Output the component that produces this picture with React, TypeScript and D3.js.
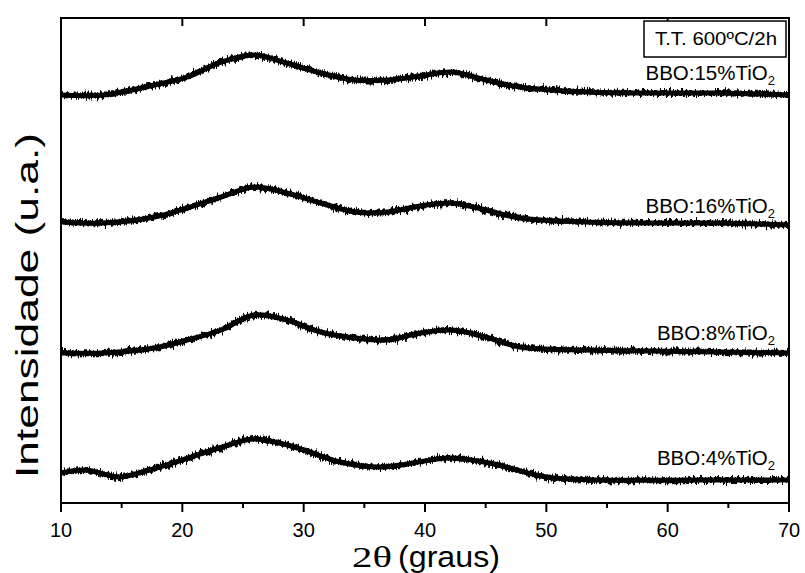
import React from "react";
import * as d3 from "d3";

// 2θ positions (degrees) and intensities (a.u., stacked as plotted)
const theta15 = [10, 13.5, 17.7, 20.4, 23.2, 25.9, 28.6, 31.4, 34.2, 36.9, 39.6, 42.2, 45, 47.8, 53.3, 58.7, 64.2, 70];
const int15 = [408, 408, 418, 426, 441, 448, 440, 430, 423, 423, 427, 431, 423, 416, 411, 410, 410, 408];

const theta16 = [10, 13.5, 17.7, 20.4, 23.2, 25.9, 28.6, 31.4, 34.2, 36.9, 39.6, 42.2, 45, 47.8, 53.3, 58.7, 64.2, 70];
const int16 = [281, 280, 286, 295, 306, 316, 310, 300, 291, 291, 297, 300, 293, 285, 281, 280, 280, 278];

const theta8 = [10, 13.5, 17.7, 20.4, 23.2, 25.9, 28.6, 31.4, 34.2, 36.9, 39.6, 42.2, 45, 47.8, 53.3, 58.7, 64.2, 70];
const int8 = [150, 150, 155, 163, 173, 188, 183, 171, 165, 163, 170, 173, 166, 156, 153, 152, 151, 150];

const theta4 = [10, 12, 14.8, 17, 20, 23, 25.8, 28, 30, 33, 36, 38, 42, 45.3, 50, 54.4, 62.6, 70];
const int4 = [30, 33, 26, 32, 43, 55, 64, 60, 53, 41, 36, 38, 45, 40, 26, 23, 23, 23];

const seriesNames = ["15", "16", "8", "4"];
const labelLevels = [80, 213, 340, 465];
const xTicks = [10, 20, 30, 40, 50, 60, 70];
const xMinor = [15, 25, 35, 45, 55, 65];
const legendText = "T.T. 600ºC/2h";

const FONT = "'Liberation Sans', Arial, Helvetica, sans-serif";

export default function App() {
  const W = 805, H = 573;
  const left = 61, right = 789, top = 18, bottom = 503;
  const x = d3.scaleLinear().domain([10, 70]).range([left, right]);
  const y = d3.scaleLinear().domain([0, 485]).range([bottom, top]);

  const series = [
    { t: theta15, v: int15 },
    { t: theta16, v: int16 },
    { t: theta8, v: int8 },
    { t: theta4, v: int4 },
  ];

  const paths = series.map((s) => {
    const pts: [number, number][] = s.t.map((t, i) => [x(t), y(s.v[i])]);
    return d3.line().curve(d3.curveCatmullRom.alpha(0.5))(pts) || "";
  });

  return (
    <svg width={W} height={H} style={{ display: "block", position: "absolute", left: 0, top: 0, background: "#fff" }}>
      <defs>
        <filter id="rough" filterUnits="userSpaceOnUse" x={0} y={0} width={W} height={H}>
          <feTurbulence type="fractalNoise" baseFrequency="0.8 0.04" numOctaves={2} seed={4} result="n" />
          <feDisplacementMap in="SourceGraphic" in2="n" scale={12} xChannelSelector="R" yChannelSelector="G" />
        </filter>
        <filter id="rough2" filterUnits="userSpaceOnUse" x={0} y={0} width={W} height={H}>
          <feTurbulence type="fractalNoise" baseFrequency="0.45 0.03" numOctaves={3} seed={11} result="n" />
          <feDisplacementMap in="SourceGraphic" in2="n" scale={11} xChannelSelector="R" yChannelSelector="G" />
        </filter>
        <clipPath id="plot">
          <rect x={left} y={top} width={right - left} height={bottom - top} />
        </clipPath>
      </defs>

      <g clipPath="url(#plot)">
        {paths.map((d, i) => (
          <g key={i}>
            <path d={d} fill="none" stroke="#000" strokeWidth={5} />
            <path d={d} fill="none" stroke="#000" strokeWidth={4} filter="url(#rough)" />
            <path d={d} fill="none" stroke="#000" strokeWidth={4} filter="url(#rough2)" />
          </g>
        ))}
      </g>

      {/* frame */}
      <rect x={left} y={top} width={right - left} height={bottom - top} fill="none" stroke="#000" strokeWidth={2} />

      {/* bottom ticks (outward) */}
      {xTicks.map((t) => (
        <line key={"b" + t} x1={x(t)} x2={x(t)} y1={bottom} y2={bottom + 9} stroke="#000" strokeWidth={2} />
      ))}
      {xMinor.map((t) => (
        <line key={"bm" + t} x1={x(t)} x2={x(t)} y1={bottom} y2={bottom + 5} stroke="#000" strokeWidth={2} />
      ))}
      {/* top ticks (inward) */}
      {xTicks.map((t) => (
        <line key={"t" + t} x1={x(t)} x2={x(t)} y1={top} y2={top + 8} stroke="#000" strokeWidth={2} />
      ))}

      {/* tick labels */}
      {xTicks.map((t) => (
        <text key={"l" + t} x={x(t)} y={537} textAnchor="middle" fontFamily={FONT} fontSize={20} fill="#000">
          {t}
        </text>
      ))}

      {/* x title */}
      <text x={352} y={567} fontFamily="'Liberation Serif', 'Times New Roman', serif" fontSize={30} fill="#000" textLength={40} lengthAdjust="spacingAndGlyphs">
        2θ
      </text>
      <text x={398} y={567} fontFamily={FONT} fontSize={30} fill="#000" textLength={102} lengthAdjust="spacingAndGlyphs">
        (graus)
      </text>

      {/* y title */}
      <text
        transform={`translate(38, ${(133 + 478) / 2}) rotate(-90)`}
        textAnchor="middle"
        fontFamily={FONT}
        fontSize={32}
        fill="#000"
        textLength={345}
        lengthAdjust="spacingAndGlyphs"
      >
        Intensidade (u.a.)
      </text>

      {/* legend box */}
      <rect x={644} y={21} width={142} height={36} fill="#fff" stroke="#000" strokeWidth={1.5} />
      <text x={716} y={45} textAnchor="middle" fontFamily={FONT} fontSize={19} fill="#000" textLength={122} lengthAdjust="spacingAndGlyphs">
        {legendText}
      </text>

      {/* series labels */}
      {seriesNames.map((n, i) => (
        <text key={n} x={775} y={labelLevels[i]} textAnchor="end" fontFamily={FONT} fontSize={20.5} fill="#000">
          {`BBO:${n}%TiO`}
          <tspan fontSize={13} dy={5}>2</tspan>
        </text>
      ))}
    </svg>
  );
}
